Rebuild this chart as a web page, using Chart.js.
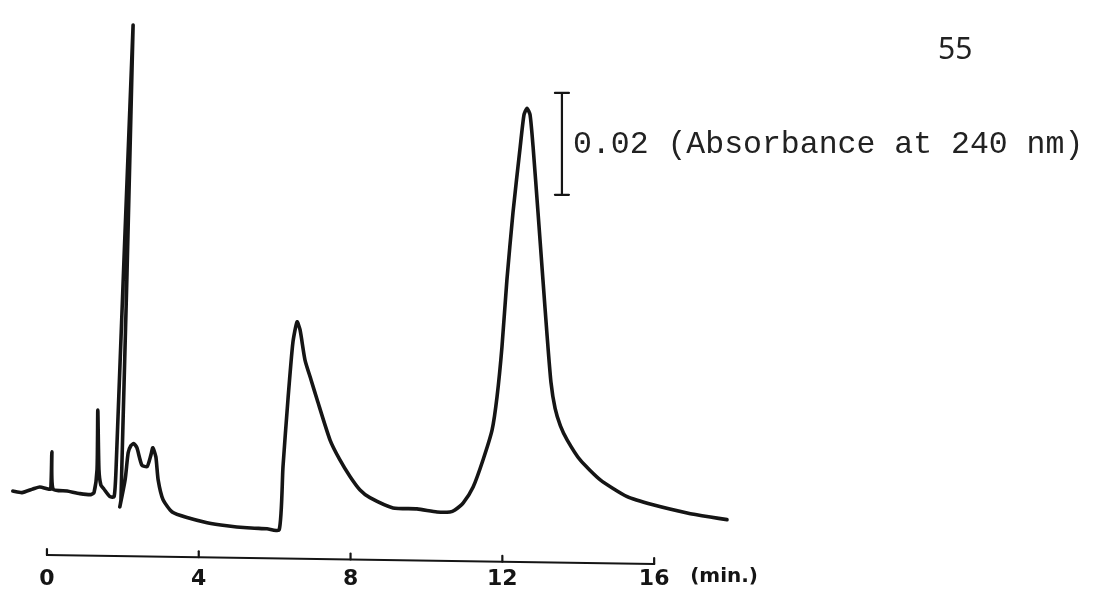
<!DOCTYPE html>
<html>
<head>
<meta charset="utf-8">
<title>Chromatogram</title>
<script src="https://cdn.jsdelivr.net/npm/chart.js@4/dist/chart.umd.min.js"></script>
<style>
  html, body { margin: 0; padding: 0; background: #fff; }
  #wrap { width: 1094px; height: 592px; position: relative; }
</style>
</head>
<body>
<div id="wrap"><canvas id="chart" width="1094" height="592"></canvas></div>
<script>
// ===============================
// DATA
// ===============================
const timeMin = [
  -0.90, -0.66, -0.37, -0.19, 0.03, 0.10, 0.13, 0.16, 0.53, 0.87, 1.16, 1.24,
  1.32, 1.34, 1.37, 1.42, 1.50, 1.66, 1.77, 1.82, 2.27, 1.95, 1.92,
  2.06, 2.14, 2.21, 2.29, 2.37, 2.50, 2.64, 2.74, 2.79, 2.87, 2.93, 3.06,
  3.30, 3.69, 4.22, 4.74, 5.27, 5.80, 6.12,
  6.22, 6.35, 6.48, 6.59, 6.67, 6.80, 6.96, 7.12, 7.46, 7.72, 7.99, 8.25, 8.51,
  9.12, 9.75, 10.28, 10.62, 10.75, 10.97, 11.23, 11.49, 11.73, 11.86, 11.99,
  12.12, 12.28, 12.47, 12.57, 12.65, 12.73, 12.81, 12.94, 13.07, 13.18,
  13.28, 13.39, 13.53, 13.71, 14.05, 14.58, 15.29, 15.97, 16.87, 17.48, 17.92
];
const absorbance = [
  0.0076, 0.0073, 0.0080, 0.0084, 0.0080, 0.0080, 0.0153, 0.0080, 0.0076, 0.0071, 0.0069, 0.0073,
  0.0118, 0.0235, 0.0118, 0.0088, 0.0080, 0.0065, 0.0065, 0.0118, 0.0990, 0.0059, 0.0045,
  0.0098, 0.0151, 0.0165, 0.0169, 0.0161, 0.0127, 0.0124, 0.0147, 0.0161, 0.0143, 0.0098, 0.0059,
  0.0035, 0.0024, 0.0014, 0.0008, 0.0004, 0.0002, 0.0000,
  0.0124, 0.0255, 0.0367, 0.0408, 0.0392, 0.0333, 0.0294, 0.0255, 0.0176, 0.0137, 0.0104, 0.0078, 0.0063,
  0.0043, 0.0041, 0.0035, 0.0035, 0.0039, 0.0053, 0.0084, 0.0137, 0.0196, 0.0261, 0.0359,
  0.0490, 0.0622, 0.0751, 0.0814, 0.0827, 0.0814, 0.0751, 0.0622, 0.0490, 0.0380,
  0.0290, 0.0238, 0.0204, 0.0176, 0.0137, 0.0098, 0.0065, 0.0049, 0.0033, 0.0025, 0.0020
];
const tickMinutes = [0, 4, 8, 12, 16];
const axisUnit = "(min.)";

// scale bar: 0.02 absorbance units
const barTime = 13.57;
const barTop = 0.0857;
const barSpan = 0.02;
const barLabel = "0.02 (Absorbance at 240 nm)";
const pageNumber = "55";

const INK = "#151515";

// ===============================
// CUSTOM DRAWING (axis line, scale bar, texts)
// ===============================
const extras = {
  id: "extras",
  afterDatasetsDraw(chart) {
    const ctx = chart.ctx;
    const x = chart.scales.x;
    const y = chart.scales.y;
    const base = chart.chartArea.bottom;

    ctx.save();
    ctx.strokeStyle = INK;
    ctx.fillStyle = INK;
    ctx.lineCap = "round";

    // time axis, slightly tilted like the scan
    const x0 = x.getPixelForValue(tickMinutes[0]);
    const x1 = x.getPixelForValue(tickMinutes[tickMinutes.length - 1]);
    const y0 = base + 15, y1 = base + 24;
    ctx.lineWidth = 2.2;
    ctx.beginPath();
    ctx.moveTo(x0, y0);
    ctx.lineTo(x1, y1);
    ctx.stroke();
    tickMinutes.forEach(t => {
      const px = x.getPixelForValue(t);
      const py = y0 + (y1 - y0) * (px - x0) / (x1 - x0);
      ctx.beginPath();
      ctx.moveTo(px, py);
      ctx.lineTo(px, py - 6);
      ctx.stroke();
    });

    ctx.font = "bold 20px 'DejaVu Sans'";
    ctx.textBaseline = "middle";
    ctx.textAlign = "left";
    ctx.fillText(axisUnit, x1 + 36, base + 37);

    // scale bar
    const bx = x.getPixelForValue(barTime);
    const by0 = y.getPixelForValue(barTop);
    const by1 = y.getPixelForValue(barTop - barSpan);
    ctx.lineWidth = 2.2;
    ctx.beginPath();
    ctx.moveTo(bx, by0);
    ctx.lineTo(bx, by1);
    ctx.moveTo(bx - 7, by0);
    ctx.lineTo(bx + 7, by0);
    ctx.moveTo(bx - 7, by1);
    ctx.lineTo(bx + 7, by1);
    ctx.stroke();

    ctx.fillStyle = "#222";
    ctx.font = "31.5px 'Liberation Mono'";
    ctx.fillText(barLabel, bx + 11, (by0 + by1) / 2 + 1);

    ctx.font = "30px 'Noto Sans'";
    ctx.fillText(pageNumber, 938, 50);
    ctx.restore();
  }
};

// ===============================
// CHART
// ===============================
const points = timeMin.map((t, i) => ({ x: t, y: absorbance[i] }));

new Chart(document.getElementById("chart"), {
  type: "scatter",
  data: {
    datasets: [{
      data: points,
      showLine: true,
      borderColor: INK,
      borderWidth: 3.6,
      pointRadius: 0,
      tension: 0.2,
      borderJoinStyle: "round",
      borderCapStyle: "round",
      clip: false
    }]
  },
  options: {
    responsive: false,
    animation: false,
    layout: { padding: { left: 9, right: 326, top: 20, bottom: 0 } },
    plugins: { legend: { display: false }, tooltip: { enabled: false } },
    scales: {
      x: {
        type: "linear",
        min: -1,
        max: 19,
        grid: { display: false, drawTicks: false },
        border: { display: false },
        afterBuildTicks: scale => {
          scale.ticks = tickMinutes.map(v => ({ value: v }));
        },
        afterFit: scale => {
          scale.height = 52;
        },
        ticks: {
          padding: 26,
          color: INK,
          maxRotation: 0,
          font: { family: "DejaVu Sans", weight: "bold", size: 22 }
        }
      },
      y: {
        display: false,
        min: -0.002,
        max: 0.1
      }
    }
  },
  plugins: [extras]
});
</script>
</body>
</html>
